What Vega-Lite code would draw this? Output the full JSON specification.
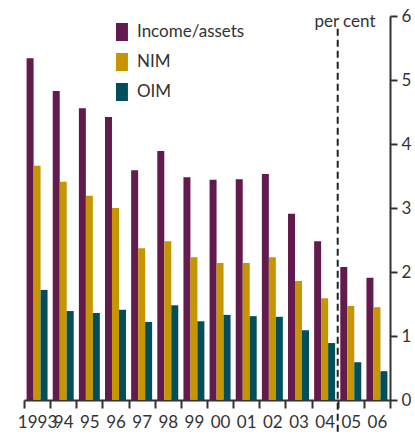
{
  "$schema": "https://vega.github.io/schema/vega-lite/v6.json",
  "autosize": {"type": "none"},
  "padding": {"left": 24, "top": 16, "right": 25, "bottom": 35},
  "width": 366,
  "height": 384,
  "config": {
    "view": {"stroke": null},
    "font": "Lato",
    "axis": {"labelFont": "Lato", "titleFont": "Lato", "labelColor": "#333333", "titleColor": "#333333", "grid": false},
    "legend": {"labelFont": "Lato"}
  },
  "datasets": {
    "bars": [
      {"year": "1993", "series": "Income/assets", "value": 5.34},
      {"year": "1993", "series": "NIM", "value": 3.66},
      {"year": "1993", "series": "OIM", "value": 1.72},
      {"year": "94", "series": "Income/assets", "value": 4.83},
      {"year": "94", "series": "NIM", "value": 3.41},
      {"year": "94", "series": "OIM", "value": 1.39},
      {"year": "95", "series": "Income/assets", "value": 4.56},
      {"year": "95", "series": "NIM", "value": 3.19},
      {"year": "95", "series": "OIM", "value": 1.36},
      {"year": "96", "series": "Income/assets", "value": 4.42},
      {"year": "96", "series": "NIM", "value": 3.0},
      {"year": "96", "series": "OIM", "value": 1.41},
      {"year": "97", "series": "Income/assets", "value": 3.59},
      {"year": "97", "series": "NIM", "value": 2.37},
      {"year": "97", "series": "OIM", "value": 1.22},
      {"year": "98", "series": "Income/assets", "value": 3.89},
      {"year": "98", "series": "NIM", "value": 2.48},
      {"year": "98", "series": "OIM", "value": 1.48},
      {"year": "99", "series": "Income/assets", "value": 3.48},
      {"year": "99", "series": "NIM", "value": 2.23},
      {"year": "99", "series": "OIM", "value": 1.23},
      {"year": "00", "series": "Income/assets", "value": 3.44},
      {"year": "00", "series": "NIM", "value": 2.14},
      {"year": "00", "series": "OIM", "value": 1.33},
      {"year": "01", "series": "Income/assets", "value": 3.45},
      {"year": "01", "series": "NIM", "value": 2.14},
      {"year": "01", "series": "OIM", "value": 1.31},
      {"year": "02", "series": "Income/assets", "value": 3.53},
      {"year": "02", "series": "NIM", "value": 2.23},
      {"year": "02", "series": "OIM", "value": 1.30},
      {"year": "03", "series": "Income/assets", "value": 2.91},
      {"year": "03", "series": "NIM", "value": 1.86},
      {"year": "03", "series": "OIM", "value": 1.09},
      {"year": "04", "series": "Income/assets", "value": 2.48},
      {"year": "04", "series": "NIM", "value": 1.59},
      {"year": "04", "series": "OIM", "value": 0.89},
      {"year": "05", "series": "Income/assets", "value": 2.08},
      {"year": "05", "series": "NIM", "value": 1.47},
      {"year": "05", "series": "OIM", "value": 0.59},
      {"year": "06", "series": "Income/assets", "value": 1.91},
      {"year": "06", "series": "NIM", "value": 1.45},
      {"year": "06", "series": "OIM", "value": 0.45}
    ],
    "divider": [
      {"year": "05", "top": 5.8, "bottom": -0.55}
    ]
  },
  "layer": [
    {
      "data": {"name": "bars"},
      "mark": {"type": "bar"},
      "encoding": {
        "x": {
          "field": "year", "type": "nominal",
          "scale": {"domain": ["1993","94","95","96","97","98","99","00","01","02","03","04","05","06"], "paddingInner": 0, "paddingOuter": 0},
          "axis": {
            "title": null, "labelAngle": 0, "labelOverlap": false, "labelFontSize": 17, "labelPadding": 6,
            "tickBand": "extent", "tickSize": 8, "tickWidth": 2, "tickColor": "#333333",
            "domainColor": "#333333", "domainWidth": 2
          }
        },
        "xOffset": {
          "field": "series", "type": "nominal",
          "scale": {"domain": ["Income/assets", "NIM", "OIM"], "paddingInner": 0, "paddingOuter": 0.37}
        },
        "y": {
          "field": "value", "type": "quantitative",
          "scale": {"domain": [0, 6], "nice": false},
          "axis": {
            "orient": "right", "values": [0,1,2,3,4,5,6], "format": "d", "labelFontSize": 17, "labelPadding": 4,
            "tickSize": 7, "tickWidth": 2, "tickColor": "#333333", "domainColor": "#333333", "domainWidth": 2,
            "title": "per cent", "titleAngle": 0, "titleX": -15, "titleY": 10, "titleAlign": "right",
            "titleBaseline": "alphabetic", "titleFontWeight": "normal", "titleFontSize": 17
          }
        },
        "color": {
          "field": "series", "type": "nominal",
          "scale": {"domain": ["Income/assets", "NIM", "OIM"], "range": ["#631a4d", "#c59504", "#014f5b"]},
          "legend": {
            "title": null, "orient": "none", "legendX": 89, "legendY": 7, "padding": 0,
            "symbolType": "M-0.67,-1h1.33v2h-1.33Z", "symbolSize": 324, "symbolStrokeWidth": 0,
            "labelFontSize": 17, "labelColor": "#333333", "labelOffset": 6, "rowPadding": 12
          }
        }
      }
    },
    {
      "data": {"name": "divider"},
      "mark": {"type": "rule", "strokeDash": [7, 4], "strokeWidth": 2, "color": "#222222", "clip": false},
      "encoding": {
        "x": {"field": "year", "type": "nominal", "bandPosition": 0},
        "y": {"field": "top", "type": "quantitative"},
        "y2": {"field": "bottom"}
      }
    }
  ]
}
